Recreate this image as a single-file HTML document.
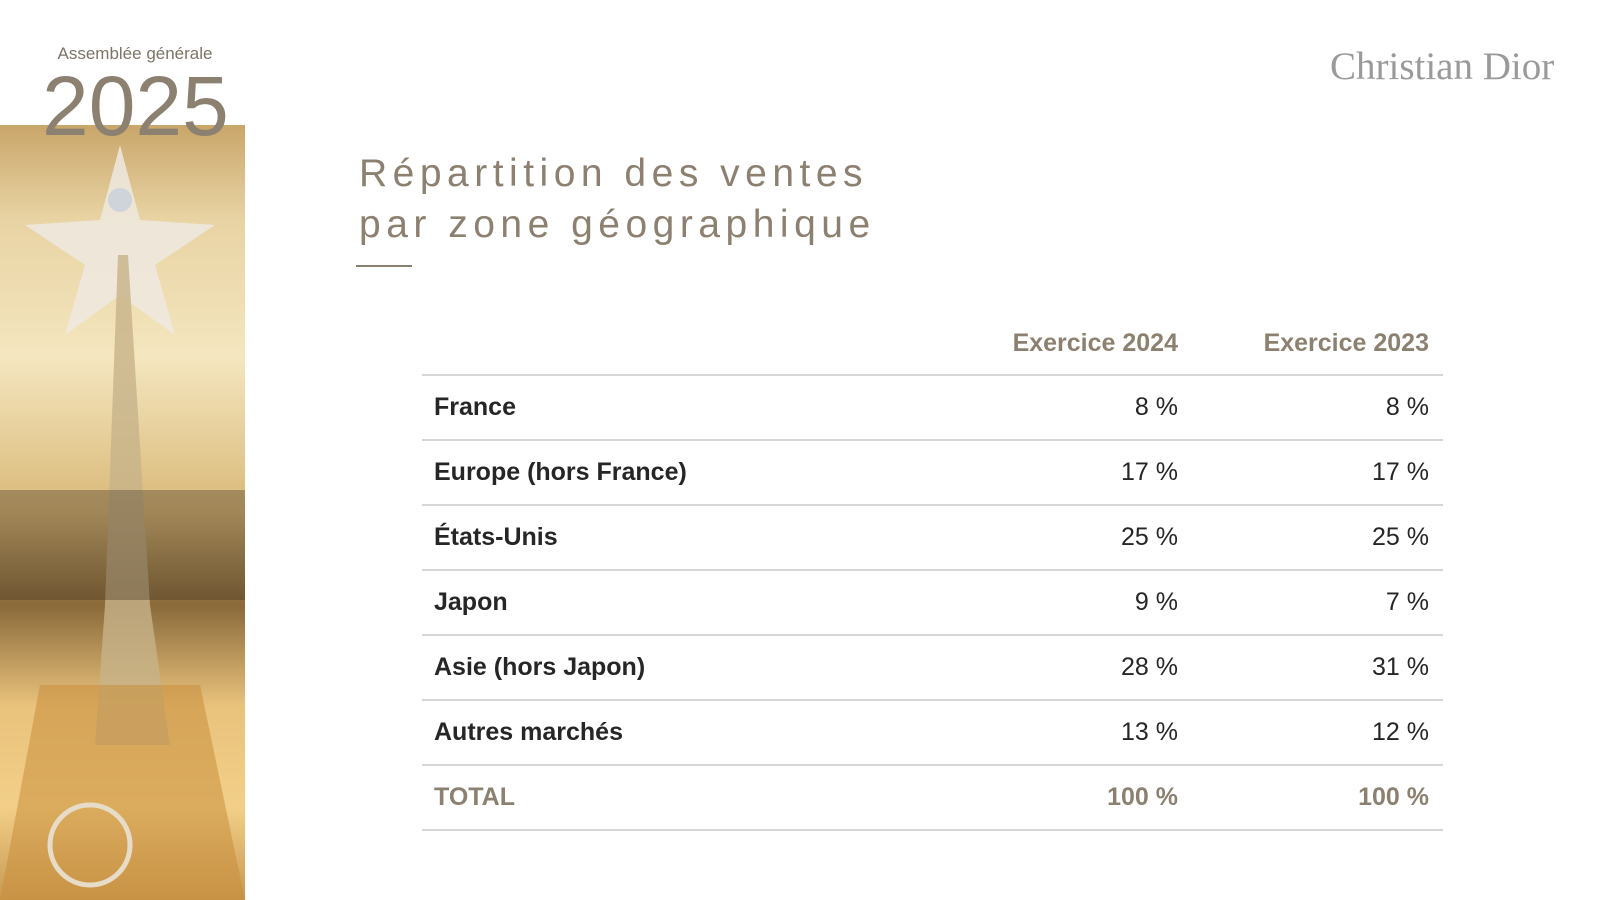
<!DOCTYPE html>
<html><head><meta charset="utf-8"><style>
body{margin:0;width:1600px;height:900px;background:#fff;position:relative;overflow:hidden;font-family:"Liberation Sans",sans-serif}
.a{position:absolute}
.photo{left:0;top:125px;width:245px;height:775px;background:linear-gradient(180deg,#c9a66a 0%,#e8d3a3 12%,#f4e6bf 30%,#d9b877 50%,#8a6a3a 62%,#e9c27c 75%,#f2cf88 88%,#c89850 100%);overflow:hidden}
.row{position:absolute;left:422px;width:1021px;height:65px;border-top:2px solid #d6d6d6;box-sizing:border-box}
.row span{position:absolute;top:17px;font-size:25px;font-weight:bold;color:#262626}
.l{left:12px}.c1{right:265px;font-weight:normal!important}.c2{right:14px;font-weight:normal!important}
.tot span{color:#8c8170!important;font-weight:bold!important}
</style></head><body>
<div class="a" style="left:0;width:270px;top:44px;text-align:center;font-size:17px;color:#7c7466">Assemblée générale</div>
<div class="a photo">
<svg width="245" height="775" viewBox="0 0 245 775">
<polygon points="120,20 140,95 215,100 155,140 175,210 120,170 65,210 85,140 25,100 100,95" fill="#eee9e0" opacity=".85"/>
<circle cx="120" cy="75" r="12" fill="#cfd3da"/>
<polygon points="118,130 128,130 150,480 170,620 95,620 105,480" fill="#c7b38a" opacity=".8"/>
<rect x="0" y="365" width="245" height="110" fill="#3a2c1c" opacity=".35"/>
<polygon points="40,560 200,560 245,775 0,775" fill="#c98e3c" opacity=".55"/>
<circle cx="90" cy="720" r="40" fill="none" stroke="#e6dcc8" stroke-width="5"/>
</svg></div>
<div class="a" style="left:42px;top:60px;font-size:84px;color:#8c8170;line-height:92px">2025</div>
<div class="a" style="left:1330px;top:44px;font-family:'Liberation Serif',serif;font-size:39px;color:#9a9a9a">Christian Dior</div>
<div class="a" style="left:359px;top:148px;font-size:39px;letter-spacing:5.5px;color:#8c8170;line-height:51px">Répartition des ventes<br>par zone géographique</div>
<div class="a" style="left:356px;top:265px;width:56px;height:2px;background:#8c8170"></div>
<div class="a" style="top:329px;right:422px;font-size:25px;font-weight:bold;color:#8c8170">Exercice 2024</div>
<div class="a" style="top:329px;right:171px;font-size:25px;font-weight:bold;color:#8c8170">Exercice 2023</div>
<div class="row" style="top:374px"><span class="l">France</span><span class="c1">8 %</span><span class="c2">8 %</span></div>
<div class="row" style="top:439px"><span class="l">Europe (hors France)</span><span class="c1">17 %</span><span class="c2">17 %</span></div>
<div class="row" style="top:504px"><span class="l">États-Unis</span><span class="c1">25 %</span><span class="c2">25 %</span></div>
<div class="row" style="top:569px"><span class="l">Japon</span><span class="c1">9 %</span><span class="c2">7 %</span></div>
<div class="row" style="top:634px"><span class="l">Asie (hors Japon)</span><span class="c1">28 %</span><span class="c2">31 %</span></div>
<div class="row" style="top:699px"><span class="l">Autres marchés</span><span class="c1">13 %</span><span class="c2">12 %</span></div>
<div class="row tot" style="top:764px;border-bottom:2px solid #d6d6d6;height:67px"><span class="l">TOTAL</span><span class="c1">100 %</span><span class="c2">100 %</span></div>
</body></html>
